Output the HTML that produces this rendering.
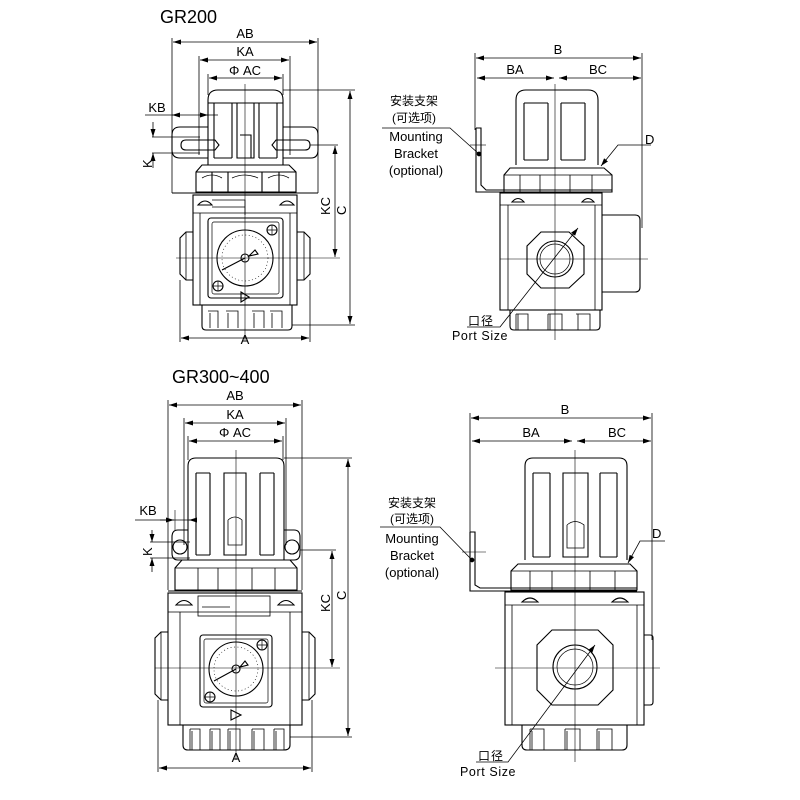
<!DOCTYPE html>
<html><head><meta charset="utf-8"><style>
html,body{margin:0;padding:0;background:#fff;width:800px;height:800px;overflow:hidden}
svg{display:block}
text{font-family:"Liberation Sans","Noto Sans CJK SC",sans-serif;fill:#000}
</style></head><body>
<svg width="800" height="800" viewBox="0 0 800 800" xmlns="http://www.w3.org/2000/svg">
<defs>
<marker id="a" markerWidth="8" markerHeight="6" refX="8" refY="3" orient="auto-start-reverse" markerUnits="userSpaceOnUse"><path d="M0,0.5 L8,3 L0,5.5z" fill="#000"/></marker>
</defs>
<g fill="none" stroke="#000" stroke-width="1.1">

<!-- ================= GR200 FRONT ================= -->
<line x1="172" y1="38" x2="172" y2="193" stroke-width="0.8"/>
<line x1="318" y1="38" x2="318" y2="193" stroke-width="0.8"/>
<line x1="173" y1="42" x2="317" y2="42" stroke-width="0.8" marker-start="url(#a)" marker-end="url(#a)"/>
<line x1="199" y1="56" x2="199" y2="155" stroke-width="0.8"/>
<line x1="290" y1="56" x2="290" y2="155" stroke-width="0.8"/>
<line x1="200" y1="60" x2="289" y2="60" stroke-width="0.8" marker-start="url(#a)" marker-end="url(#a)"/>
<line x1="208" y1="74" x2="208" y2="95" stroke-width="0.8"/>
<line x1="283" y1="74" x2="283" y2="95" stroke-width="0.8"/>
<line x1="209" y1="78" x2="282" y2="78" stroke-width="0.8" marker-start="url(#a)" marker-end="url(#a)"/>
<path d="M208,127 H180 Q172,127 172,135 V150 Q172,158 180,158 H208"/>
<path d="M283,127 H311 Q318,127 318,135 V150 Q318,158 311,158 H283"/>
<path d="M186,140 H215 L219,145 L215,150 H186 Q181,150 181,145 Q181,140 186,140z"/>
<path d="M305,140 H276 L272,145 L276,150 H305 Q310,150 310,145 Q310,140 305,140z"/>
<path d="M208,165 V100 Q208,90 218,90 H273 Q283,90 283,100 V165"/>
<line x1="208" y1="103" x2="283" y2="103"/>
<path d="M214,103 V158 M232,103 V158 M214,158 H232"/>
<path d="M259,103 V158 M277,103 V158 M259,158 H277"/>
<path d="M237,103 V158 H254 V103"/>
<path d="M240,135 H251 V158"/>
<path d="M202,165 H289 L296,172 V192 H196 V172z"/>
<path d="M196,172 H296 M212,172 V192 M228,172 V192 M262,172 V192 M279,172 V192"/>
<path d="M202,178 Q212,172 222,178 M232,178 Q245,172 258,178 M268,178 Q279,172 289,178" stroke-width="0.8"/>
<line x1="172" y1="193" x2="318" y2="193"/>
<rect x="193" y="195" width="104" height="110"/>
<path d="M200,213 V305 M290,213 V305 M193,213 H297" stroke-width="0.8"/>
<path d="M198,205 Q205,197 212,205 z M280,205 Q287,197 294,205 z"/>
<path d="M212,200 H245 V215 M212,207 H245" stroke-width="0.8"/>
<path d="M193,232 H186 L180,238 V274 L186,280 H193"/>
<path d="M186,232 V280" stroke-width="0.8"/>
<path d="M297,232 H304 L310,238 V274 L304,280 H297"/>
<path d="M304,232 V280" stroke-width="0.8"/>
<rect x="208" y="218" width="75" height="80" rx="3"/>
<rect x="212" y="222" width="67" height="72" rx="2" stroke-width="0.7"/>
<circle cx="245" cy="258" r="28"/>
<circle cx="245" cy="258" r="23" stroke-width="0.6" stroke-dasharray="1 2.5"/>
<circle cx="245" cy="258" r="4"/>
<line x1="245" y1="258" x2="222" y2="270"/>
<path d="M249,256 L255,250 L258,254z"/>
<circle cx="272" cy="230" r="5"/><path d="M267,230 H277 M272,225 V235" stroke-width="0.7"/>
<circle cx="218" cy="286" r="5"/><path d="M213,286 H223 M218,281 V291" stroke-width="0.7"/>
<path d="M241,292 L249,297 L241,302z"/>
<path d="M202,305 V326 Q202,330 206,330 H288 Q292,330 292,326 V305"/>
<path d="M208,311 H218 V328 M210,313 V328 M226,311 H238 V328 M228,313 V328 M252,311 H264 V328 M254,313 V328 M270,311 H282 V328 M272,313 V328 M238,311 V328 M218,311 V313 M264,311 V328 M282,311 V328" stroke-width="0.8"/>
<line x1="245" y1="84" x2="245" y2="340" stroke-width="0.6"/>
<line x1="176" y1="258" x2="340" y2="258" stroke-width="0.6"/>
<line x1="180" y1="280" x2="180" y2="342" stroke-width="0.8"/>
<line x1="310" y1="280" x2="310" y2="342" stroke-width="0.8"/>
<line x1="181" y1="338" x2="309" y2="338" stroke-width="0.8" marker-start="url(#a)" marker-end="url(#a)"/>
<line x1="283" y1="90" x2="355" y2="90" stroke-width="0.8"/>
<line x1="292" y1="325" x2="355" y2="325" stroke-width="0.8"/>
<line x1="350" y1="91" x2="350" y2="324" stroke-width="0.8" marker-start="url(#a)" marker-end="url(#a)"/>
<line x1="310" y1="145" x2="338" y2="145" stroke-width="0.8"/>
<line x1="335" y1="146" x2="335" y2="257" stroke-width="0.8" marker-start="url(#a)" marker-end="url(#a)"/>
<line x1="145" y1="115" x2="218" y2="115" stroke-width="0.8"/>
<line x1="180" y1="115" x2="172" y2="115" stroke-width="0.8" marker-end="url(#a)"/>
<line x1="200" y1="115" x2="208" y2="115" stroke-width="0.8" marker-end="url(#a)"/>
<line x1="152" y1="137" x2="200" y2="137" stroke-width="0.8"/>
<line x1="152" y1="153" x2="200" y2="153" stroke-width="0.8"/>
<line x1="153" y1="122" x2="153" y2="137" stroke-width="0.8" marker-end="url(#a)"/>
<line x1="153" y1="168" x2="153" y2="153" stroke-width="0.8" marker-end="url(#a)"/>

<!-- ================= GR200 SIDE ================= -->
<line x1="475" y1="53" x2="475" y2="130" stroke-width="0.8"/>
<line x1="642" y1="53" x2="642" y2="228" stroke-width="0.8"/>
<line x1="476" y1="58" x2="641" y2="58" stroke-width="0.8" marker-start="url(#a)" marker-end="url(#a)"/>
<line x1="477" y1="78" x2="554" y2="78" stroke-width="0.8" marker-start="url(#a)" marker-end="url(#a)"/>
<line x1="559" y1="78" x2="641" y2="78" stroke-width="0.8" marker-start="url(#a)" marker-end="url(#a)"/>
<path d="M516,165 V100 Q516,90 526,90 H588 Q598,90 598,100 V165"/>
<path d="M524,103 V160 M548,103 V160 M524,160 H548 M524,103 H548"/>
<path d="M561,103 V160 M585,103 V160 M561,160 H585 M561,103 H585"/>
<path d="M510,168 H604 L612,175 V192 H504 V175z"/>
<path d="M504,175 H612 M520,175 V192 M540,175 V192 M570,175 V192 M592,175 V192" stroke-width="0.8"/>
<path d="M476,128 H481 V185 L486,190 H612" />
<path d="M476,128 V192 H612"/>
<line x1="470" y1="145" x2="486" y2="145" stroke-width="0.6"/>
<rect x="500" y="193" width="102" height="117"/>
<path d="M508,205 V310 M595,205 V310 M500,205 H602" stroke-width="0.8"/>
<path d="M512,202 Q518,195 524,202 z M582,202 Q588,195 594,202 z"/>
<path d="M602,215 H635 Q640,215 640,220 V287 Q640,292 635,292 H602"/>
<path d="M541,232 H569 L584,246 V274 L569,288 H541 L527,274 V246z"/>
<circle cx="555" cy="259" r="18"/><circle cx="555" cy="259" r="15" stroke-width="0.7"/>
<line x1="500" y1="259" x2="648" y2="259" stroke-width="0.6"/>
<line x1="555" y1="84" x2="555" y2="340" stroke-width="0.6"/>
<path d="M510,310 V326 Q510,330 514,330 H596 Q600,330 600,326 V310"/>
<path d="M516,314 H528 V330 M518,314 V330 M548,314 H562 V330 M550,314 V330 M576,314 H590 V330 M578,314 V330 M548,314 V330 M516,314 V330" stroke-width="0.8"/>
<path d="M382,128 H450 L479,154" stroke-width="0.8"/>
<circle cx="479" cy="154" r="1.8" fill="#000"/>
<path d="M651,145 H618 L601,166" stroke-width="0.8" marker-end="url(#a)"/>
<path d="M467,327 H500 L578,228" stroke-width="0.8" marker-end="url(#a)"/>

<!-- ================= GR300 FRONT ================= -->
<line x1="168" y1="400" x2="168" y2="590" stroke-width="0.8"/>
<line x1="302" y1="400" x2="302" y2="590" stroke-width="0.8"/>
<line x1="169" y1="405" x2="301" y2="405" stroke-width="0.8" marker-start="url(#a)" marker-end="url(#a)"/>
<line x1="184" y1="418" x2="184" y2="545" stroke-width="0.8"/>
<line x1="286" y1="418" x2="286" y2="545" stroke-width="0.8"/>
<line x1="185" y1="423" x2="285" y2="423" stroke-width="0.8" marker-start="url(#a)" marker-end="url(#a)"/>
<line x1="188" y1="436" x2="188" y2="460" stroke-width="0.8"/>
<line x1="283" y1="436" x2="283" y2="460" stroke-width="0.8"/>
<line x1="189" y1="441" x2="282" y2="441" stroke-width="0.8" marker-start="url(#a)" marker-end="url(#a)"/>
<path d="M188,560 V466 Q188,458 196,458 H276 Q284,458 284,466 V560"/>
<path d="M196,473 V555 M210,473 V555 M196,473 H210 M196,555 H210"/>
<path d="M260,473 V555 M274,473 V555 M260,473 H274 M260,555 H274"/>
<path d="M224,473 V555 H246 V473z"/>
<path d="M228,520 V545 H242 V520 Q235,514 228,520" stroke-width="0.8"/>
<path d="M188,530 H178 Q172,530 172,537 V553 Q172,560 178,560 H188"/>
<path d="M284,530 H294 Q300,530 300,537 V553 Q300,560 294,560 H284"/>
<circle cx="180" cy="547" r="7"/><circle cx="292" cy="547" r="7"/>
<path d="M182,560 H290 L297,568 V590 H175 V568z"/>
<path d="M175,568 H297 M198,568 V590 M218,568 V590 M252,568 V590 M275,568 V590" stroke-width="0.8"/>
<line x1="168" y1="591" x2="302" y2="591"/>
<rect x="168" y="593" width="134" height="132"/>
<path d="M180,612 V725 M290,612 V725 M168,612 H302" stroke-width="0.8"/>
<path d="M176,605 Q184,596 192,605 z M278,605 Q286,596 294,605 z"/>
<rect x="198" y="596" width="72" height="20" stroke-width="0.8"/>
<line x1="202" y1="607" x2="230" y2="607" stroke-width="0.8"/>
<path d="M168,632 H161 L155,638 V694 L161,700 H168"/>
<path d="M161,632 V700" stroke-width="0.8"/>
<path d="M302,632 H309 L315,638 V694 L309,700 H302"/>
<path d="M309,632 V700" stroke-width="0.8"/>
<rect x="200" y="635" width="72" height="72" rx="3"/>
<rect x="204" y="639" width="64" height="64" rx="2" stroke-width="0.7"/>
<circle cx="236" cy="669" r="27"/>
<circle cx="236" cy="669" r="22" stroke-width="0.6" stroke-dasharray="1 2.5"/>
<circle cx="236" cy="669" r="4"/>
<line x1="236" y1="669" x2="214" y2="681"/>
<path d="M240,667 L245,661 L248,665z"/>
<circle cx="262" cy="645" r="5"/><path d="M257,645 H267 M262,640 V650" stroke-width="0.7"/>
<circle cx="210" cy="697" r="5"/><path d="M205,697 H215 M210,692 V702" stroke-width="0.7"/>
<path d="M231,710 L241,715 L231,720z"/>
<path d="M183,725 V745 Q183,750 188,750 H284 Q290,750 290,745 V725"/>
<path d="M190,729 H200 V750 M192,731 V750 M210,729 H220 V750 M212,731 V750 M228,729 H240 V750 M230,731 V750 M252,729 H264 V750 M254,731 V750 M274,729 H284 V750 M276,731 V750 M190,729 V750 M210,729 V750 M228,729 V750 M252,729 V750 M274,729 V750" stroke-width="0.8"/>
<line x1="236" y1="450" x2="236" y2="760" stroke-width="0.6"/>
<line x1="155" y1="668" x2="340" y2="668" stroke-width="0.6"/>
<line x1="158" y1="700" x2="158" y2="772" stroke-width="0.8"/>
<line x1="312" y1="700" x2="312" y2="772" stroke-width="0.8"/>
<line x1="159" y1="768" x2="311" y2="768" stroke-width="0.8" marker-start="url(#a)" marker-end="url(#a)"/>
<line x1="284" y1="458" x2="352" y2="458" stroke-width="0.8"/>
<line x1="290" y1="737" x2="352" y2="737" stroke-width="0.8"/>
<line x1="348" y1="459" x2="348" y2="736" stroke-width="0.8" marker-start="url(#a)" marker-end="url(#a)"/>
<line x1="300" y1="550" x2="336" y2="550" stroke-width="0.8"/>
<line x1="332" y1="551" x2="332" y2="667" stroke-width="0.8" marker-start="url(#a)" marker-end="url(#a)"/>
<line x1="135" y1="520" x2="192" y2="520" stroke-width="0.8"/>
<line x1="175" y1="510" x2="175" y2="530" stroke-width="0.6"/>
<line x1="160" y1="520" x2="174" y2="520" stroke-width="0.8" marker-end="url(#a)"/>
<line x1="195" y1="520" x2="189" y2="520" stroke-width="0.8" marker-end="url(#a)"/>
<line x1="150" y1="542" x2="190" y2="542" stroke-width="0.8"/>
<line x1="150" y1="558" x2="190" y2="558" stroke-width="0.8"/>
<line x1="152" y1="530" x2="152" y2="542" stroke-width="0.8" marker-end="url(#a)"/>
<line x1="152" y1="572" x2="152" y2="558" stroke-width="0.8" marker-end="url(#a)"/>

<!-- ================= GR300 SIDE ================= -->
<line x1="470" y1="413" x2="470" y2="535" stroke-width="0.8"/>
<line x1="652" y1="413" x2="652" y2="640" stroke-width="0.8"/>
<line x1="471" y1="418" x2="651" y2="418" stroke-width="0.8" marker-start="url(#a)" marker-end="url(#a)"/>
<line x1="472" y1="441" x2="572" y2="441" stroke-width="0.8" marker-start="url(#a)" marker-end="url(#a)"/>
<line x1="577" y1="441" x2="651" y2="441" stroke-width="0.8" marker-start="url(#a)" marker-end="url(#a)"/>
<path d="M525,560 V466 Q525,458 533,458 H619 Q627,458 627,466 V560"/>
<path d="M533,473 V557 M550,473 V557 M533,473 H550 M533,557 H550"/>
<path d="M600,473 V557 M617,473 V557 M600,473 H617 M600,557 H617"/>
<path d="M563,473 V557 H588 V473z"/>
<path d="M567,525 V548 H584 V525 Q575,518 567,525" stroke-width="0.8"/>
<path d="M518,564 H630 L637,571 V590 H511 V571z"/>
<path d="M511,571 H637 M530,571 V590 M552,571 V590 M590,571 V590 M615,571 V590" stroke-width="0.8"/>
<path d="M470,532 H475 V585 L480,588 H637"/>
<path d="M470,532 V591 H637"/>
<line x1="462" y1="552" x2="486" y2="552" stroke-width="0.6"/>
<rect x="505" y="592" width="139" height="133"/>
<path d="M512,605 V725 M637,605 V725 M505,605 H644" stroke-width="0.8"/>
<path d="M522,602 Q530,594 538,602 z M612,602 Q620,594 628,602 z"/>
<path d="M644,635 H650 Q653,635 653,638 V702 Q653,705 650,705 H644"/>
<path d="M552,630 H598 L613,645 V690 L598,705 H552 L537,690 V645z"/>
<circle cx="575" cy="667" r="22"/><circle cx="575" cy="667" r="18" stroke-width="0.7"/>
<line x1="495" y1="668" x2="660" y2="668" stroke-width="0.6"/>
<line x1="575" y1="450" x2="575" y2="762" stroke-width="0.6"/>
<path d="M522,725 V745 Q522,750 527,750 H622 Q627,750 627,745 V725"/>
<path d="M530,729 H544 V750 M532,731 V750 M565,729 H580 V750 M567,731 V750 M597,729 H612 V750 M599,731 V750 M530,729 V750 M565,729 V750 M597,729 V750" stroke-width="0.8"/>
<path d="M380,527 H440 L472,560" stroke-width="0.8"/>
<circle cx="472" cy="560" r="1.8" fill="#000"/>
<path d="M665,541 H640 L628,563" stroke-width="0.8" marker-end="url(#a)"/>
<path d="M476,762 H508 L595,645" stroke-width="0.8" marker-end="url(#a)"/>
</g>

<g font-size="13">
<text x="160" y="23" font-size="18">GR200</text>
<text x="245" y="38" text-anchor="middle">AB</text>
<text x="245" y="56" text-anchor="middle">KA</text>
<text x="245" y="75" text-anchor="middle">Φ AC</text>
<text x="157" y="112" text-anchor="middle">KB</text>
<text transform="translate(152,168) rotate(-90)">K</text>
<text x="245" y="344" text-anchor="middle">A</text>
<text transform="translate(330,215) rotate(-90)">KC</text>
<text transform="translate(346,215) rotate(-90)">C</text>
<text x="558" y="54" text-anchor="middle">B</text>
<text x="515" y="74" text-anchor="middle">BA</text>
<text x="598" y="74" text-anchor="middle">BC</text>
<text x="645" y="144">D</text>
<text x="414" y="105" text-anchor="middle" font-size="12">安装支架</text>
<text x="414" y="122" text-anchor="middle" font-size="12">(可选项)</text>
<text x="416" y="141" text-anchor="middle">Mounting</text>
<text x="416" y="158" text-anchor="middle">Bracket</text>
<text x="416" y="175" text-anchor="middle">(optional)</text>
<text x="468" y="325" font-size="12" letter-spacing="1">口径</text>
<text x="452" y="340" font-size="12.5" letter-spacing="0.6">Port Size</text>

<text x="172" y="383" font-size="18">GR300~400</text>
<text x="235" y="400" text-anchor="middle">AB</text>
<text x="235" y="419" text-anchor="middle">KA</text>
<text x="235" y="437" text-anchor="middle">Φ AC</text>
<text x="148" y="515" text-anchor="middle">KB</text>
<text transform="translate(152,556) rotate(-90)">K</text>
<text x="236" y="762" text-anchor="middle">A</text>
<text transform="translate(330,612) rotate(-90)">KC</text>
<text transform="translate(346,600) rotate(-90)">C</text>
<text x="565" y="414" text-anchor="middle">B</text>
<text x="531" y="437" text-anchor="middle">BA</text>
<text x="617" y="437" text-anchor="middle">BC</text>
<text x="652" y="538">D</text>
<text x="412" y="507" text-anchor="middle" font-size="12">安装支架</text>
<text x="412" y="523" text-anchor="middle" font-size="12">(可选项)</text>
<text x="412" y="543" text-anchor="middle">Mounting</text>
<text x="412" y="560" text-anchor="middle">Bracket</text>
<text x="412" y="577" text-anchor="middle">(optional)</text>
<text x="478" y="760" font-size="12" letter-spacing="1">口径</text>
<text x="460" y="776" font-size="12.5" letter-spacing="0.6">Port Size</text>
</g>
</svg>
</body></html>
